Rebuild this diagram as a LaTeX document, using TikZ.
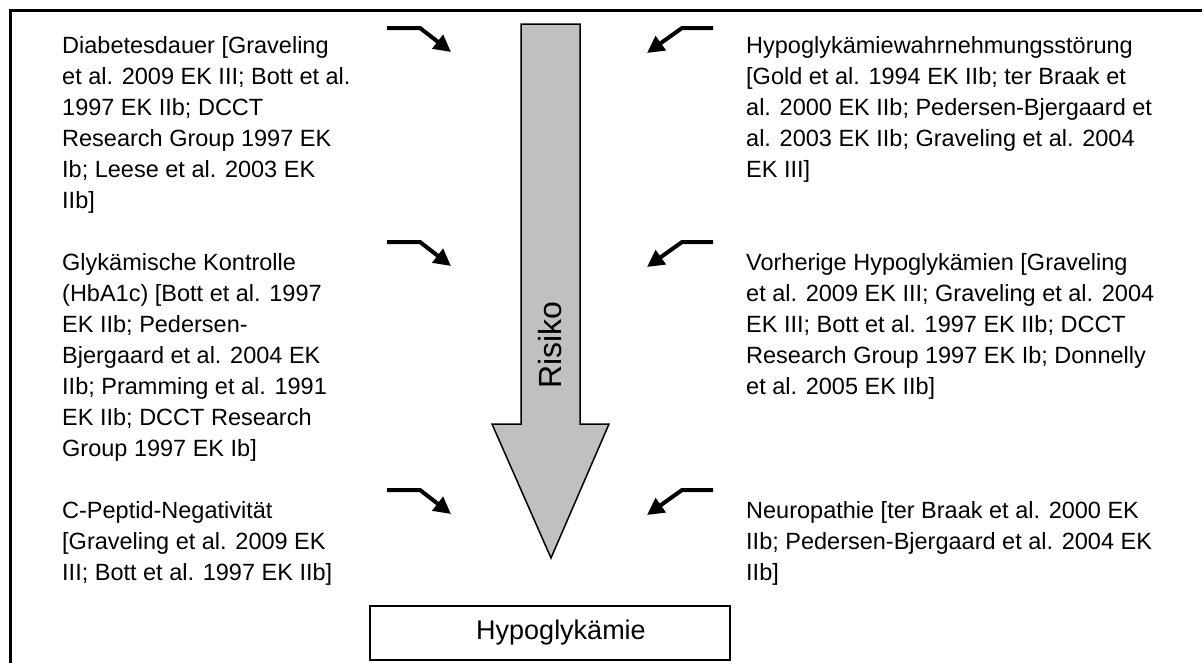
\documentclass[tikz,border=0pt]{standalone}
\usepackage{fontspec}
\setmainfont{Liberation Sans}
\usepackage{tikz}
\usetikzlibrary{positioning,arrows.meta}
\definecolor{risikograu}{RGB}{192,192,192}

\begin{document}
\begin{tikzpicture}[x=1pt,y=-1pt,
    faktor/.style={anchor=north west,align=left,inner sep=0pt,
      font=\fontsize{23.5}{31}\selectfont},
    pfeil/.style={line width=4pt,-{Triangle[length=17pt,width=17pt]}}]
  \useasboundingbox (0,0) rectangle (1202,662);

  % Rahmen (nur oben und links sichtbar)
  \draw[line width=3pt] (10,680) -- (10,10) -- (1220,10);

  % Grosser Pfeil
  \draw[line width=1.5pt,fill=risikograu,line join=miter]
    (521,24) -- (580,24) -- (580,424) -- (609,424) -- (551,558)
    -- (492,424) -- (521,424) -- cycle;
  \node[rotate=90,font=\fontsize{32}{38}\selectfont] (risiko) at (550,345) {Risiko};

  % Ergebnis unten
  \node[draw,line width=2.5pt,minimum width=360pt,minimum height=54pt,
    font=\fontsize{27}{32}\selectfont] (hypo) at (550,633) {\hspace*{22pt}Hypoglykämie};

  % Faktoren links
  \node[faktor] (dauer) at (62,36) {Diabetesdauer [Graveling\\et al. 2009 EK III; Bott et al.\\1997 EK IIb; DCCT\\Research Group 1997 EK\\Ib; Leese et al. 2003 EK\\IIb]};
  \node[faktor] (kontrolle) at (62,253) {Glykämische Kontrolle\\(HbA1c) [Bott et al. 1997\\EK IIb; Pedersen-\\Bjergaard et al. 2004 EK\\IIb; Pramming et al. 1991\\EK IIb; DCCT Research\\Group 1997 EK Ib]};
  \node[faktor] (peptid) at (62,501) {C-Peptid-Negativität\\{}[Graveling et al. 2009 EK\\III; Bott et al. 1997 EK IIb]};

  % Faktoren rechts
  \node[faktor] (wahrnehmung) at (746,36) {Hypoglykämiewahrnehmungsstörung\\{}[Gold et al. 1994 EK IIb; ter Braak et\\al. 2000 EK IIb; Pedersen-Bjergaard et\\al. 2003 EK IIb; Graveling et al. 2004\\EK III]};
  \node[faktor] (vorherige) at (746,253) {Vorherige Hypoglykämien [Graveling\\et al. 2009 EK III; Graveling et al. 2004\\EK III; Bott et al. 1997 EK IIb; DCCT\\Research Group 1997 EK Ib; Donnelly\\et al. 2005 EK IIb]};
  \node[faktor] (neuro) at (746,501) {Neuropathie [ter Braak et al. 2000 EK\\IIb; Pedersen-Bjergaard et al. 2004 EK\\IIb]};

  % kleine Pfeile
  \foreach \name/\y in {a/28,b/242,c/490} {
    \coordinate (l\name) at (387,\y);
    \coordinate (lk\name) at (420,\y);
    \coordinate (lz\name) at (451,\y+24);
    \coordinate (r\name) at (713,\y);
    \coordinate (rk\name) at (682,\y);
    \coordinate (rz\name) at (647,\y+25);
    \draw[pfeil] (l\name) -- (lk\name) -- (lz\name);
    \draw[pfeil] (r\name) -- (rk\name) -- (rz\name);
  }
\end{tikzpicture}
\end{document}
